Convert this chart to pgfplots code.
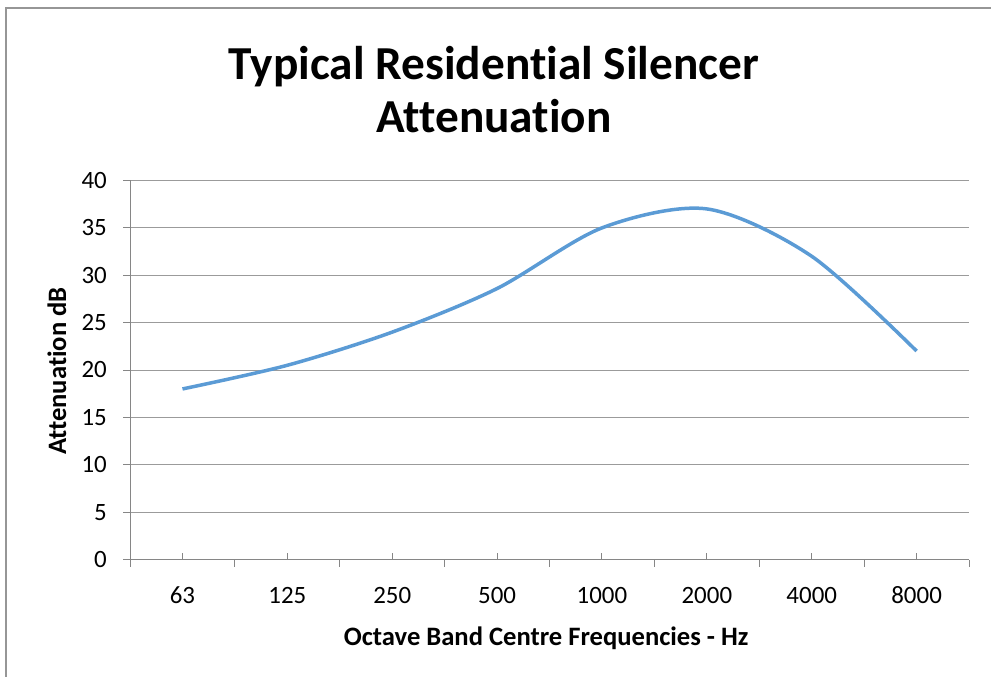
\documentclass[border=0pt]{standalone}
\usepackage{fontspec}
\setmainfont[Ligatures=NoCommon]{Carlito}
\usepackage{pgfplots}
\pgfplotsset{compat=1.18}
\definecolor{excelblue}{RGB}{91,155,213}
\definecolor{axgray}{RGB}{134,134,134}
\definecolor{gridgray}{RGB}{155,155,155}
\definecolor{framegray}{RGB}{150,150,150}
\begin{document}
\begin{tikzpicture}[x=1bp,y=1bp]
\draw[framegray, line width=1.5bp] (6,0) -- (6,669) -- (991,669);
\node[anchor=base, inner sep=0pt, font=\fontsize{47.5}{52}\selectfont\bfseries] at (494,597.7) {Typical Residential Silencer};
\node[anchor=base, inner sep=0pt, font=\fontsize{47.5}{52}\selectfont\bfseries] at (494,544) {Attenuation};
\begin{axis}[
  at={(124,124)}, anchor=south west,
  scale only axis, width=839bp, height=379bp,
  xmin=-0.5, xmax=7.5, ymin=0, ymax=40,
  ytick={0,5,...,40},
  xtick={0,...,7},
  xticklabels={63,125,250,500,1000,2000,4000,8000},
  extra x ticks={-0.5,0.5,...,7.5},
  extra x tick labels={},
  extra x tick style={xtick align=outside, major tick length=7bp},
  xtick align=inside,
  ytick align=outside,
  major tick length=7bp,
  axis x line*=bottom, axis y line*=left,
  axis line style={axgray, line width=1bp},
  every tick/.style={axgray, line width=1bp},
  ymajorgrids, grid style={gridgray, line width=1bp},
  /pgf/number format/assume math mode=true,
  tick label style={font=\fontsize{25}{30}\selectfont, text=black},
  yticklabel style={anchor=east, inner sep=0pt, xshift=-16bp},
  xticklabel style={anchor=base, inner sep=0pt, yshift=-44bp},
  xlabel={Octave Band Centre Frequencies - Hz},
  ylabel={Attenuation dB},
  xlabel style={at={(axis description cs:0.496,-0.2269)}, anchor=base, inner sep=0pt, font=\fontsize{26.7}{30}\selectfont\bfseries},
  ylabel style={at={(axis description cs:-0.0763,0.497)}, anchor=base, inner sep=0pt, font=\fontsize{26.7}{30}\selectfont\bfseries},
  clip=false,
]
\addplot[excelblue, line width=3.5bp, smooth, tension=0.5] coordinates {
  (0,18) (1,20.5) (2,24) (3,28.6) (4,35) (5,37) (6,32) (7,22)
};
\end{axis}
\pgfresetboundingbox
\path[use as bounding box] (0,0) rectangle (991,677);
\end{tikzpicture}
\end{document}
